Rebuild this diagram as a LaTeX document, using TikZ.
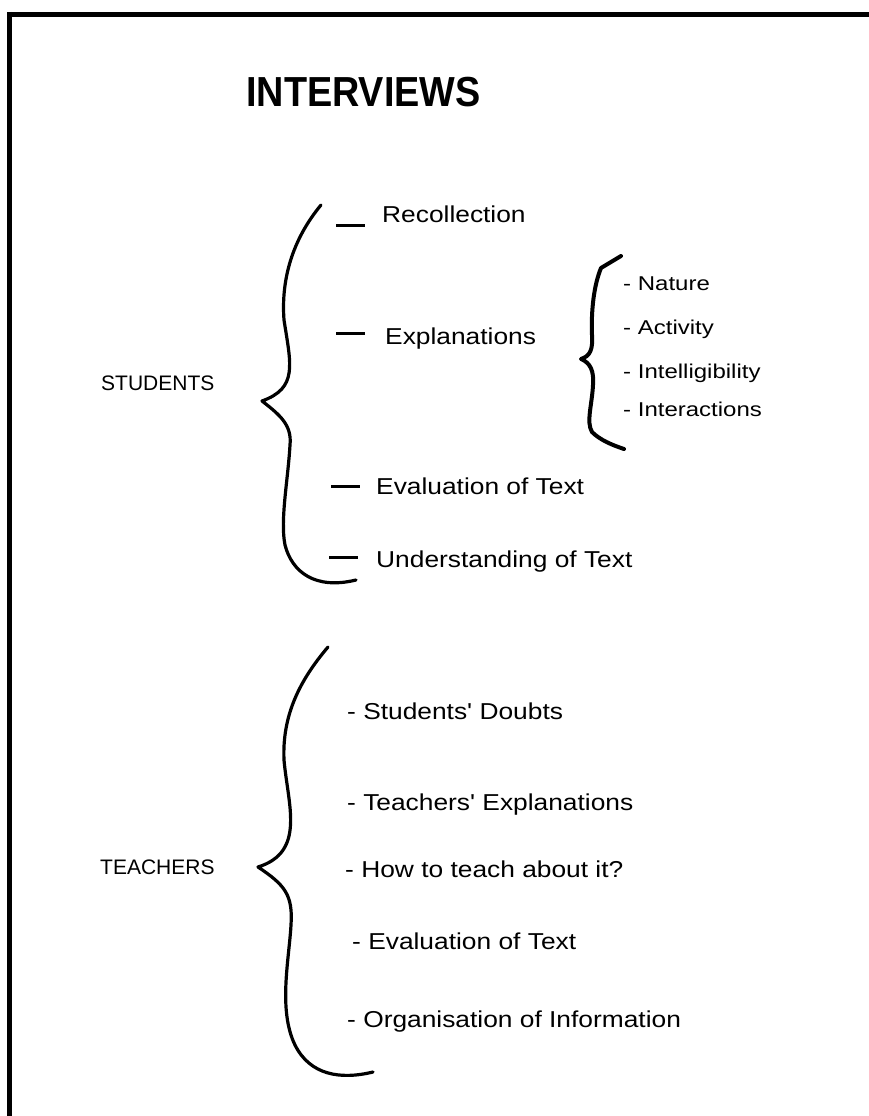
\documentclass[tikz,border=0pt]{standalone}
\usepackage{fontspec}
\setmainfont{Liberation Sans}[Ligatures=TeXOff]
\usepackage{graphicx}
\newcommand{\wx}[1]{\scalebox{1.145}[1]{#1}}
\newcommand{\wn}[1]{\scalebox{1.2}[1]{#1}}
\newcommand{\wt}[1]{\scalebox{0.9}[1]{#1}}
\begin{document}
\begin{tikzpicture}[x=1pt,y=-1pt,
  item/.style={anchor=base west, inner sep=0pt, font=\fontsize{23pt}{27pt}\selectfont},
  subitem/.style={anchor=base west, inner sep=0pt, font=\fontsize{20pt}{24pt}\selectfont},
  grp/.style={anchor=base west, inner sep=0pt, font=\fontsize{21pt}{25pt}\selectfont},
  ttl/.style={anchor=base west, inner sep=0pt, font=\fontsize{42pt}{48pt}\bfseries\selectfont},
  brace/.style={line width=3.2pt, line cap=round, line join=round},
  tick/.style={line width=3pt},
  frameline/.style={line width=5pt}]
\useasboundingbox (0,0) rectangle (869,1116);
\fill[white] (0,0) rectangle (869,1116);
% frame
\draw[frameline] (7,14.5) -- (869,14.5);
\draw[frameline] (9.5,12) -- (9.5,1116);
% title
\node[ttl] (title) at (246,106) {\wt{INTERVIEWS}};
% group labels
\node[grp] (students) at (101,390) {STUDENTS};
\node[grp] (teachers) at (100,874) {TEACHERS};
% students items
\node[item] (rec) at (382,222) {\wx{Recollection}};
\node[item] (expl) at (385,344) {\wx{Explanations}};
\node[item] (eval) at (376,494) {\wx{Evaluation of Text}};
\node[item] (und) at (376,567) {\wx{Understanding of Text}};
\draw[tick] (336,225) -- (365,225);
\draw[tick] (336,333) -- (365,333);
\draw[tick] (331,486) -- (360,486);
\draw[tick] (329,557) -- (358,557);
% nested items
\node[subitem] (nat) at (623,290) {\wn{- Nature}};
\node[subitem] (act) at (623,334) {\wn{- Activity}};
\node[subitem] (intl) at (623,378) {\wn{- Intelligibility}};
\node[subitem] (inter) at (623,416) {\wn{- Interactions}};
% teachers items
\node[item] (doubts) at (347,719) {\wx{- Students' Doubts}};
\node[item] (texpl) at (347,810) {\wx{- Teachers' Explanations}};
\node[item] (how) at (345,877) {\wx{- How to teach about it?}};
\node[item] (teval) at (352,949) {\wx{- Evaluation of Text}};
\node[item] (org) at (347,1027) {\wx{- Organisation of Information}};
% students brace
\draw[brace] (321,205) .. controls (292,240) and (281,280) .. (284,320)
  .. controls (291,365) and (298,388) .. (262,401)
  .. controls (280,415) and (292,425) .. (290,445)
  .. controls (288,480) and (280,520) .. (285,545)
  .. controls (292,572) and (315,590) .. (356,580);
% nested brace
\draw[brace, line width=4pt] (621,256) -- (601,268)
  .. controls (594,285) and (591,310) .. (592,335)
  .. controls (593,350) and (590,356) .. (581,359)
  .. controls (591,363) and (594,372) .. (593,385)
  .. controls (592,405) and (586,422) .. (592,432)
  .. controls (600,440) and (612,445) .. (624,449);
% teachers brace
\draw[brace] (328,647) .. controls (300,680) and (282,715) .. (284,760)
  .. controls (288,805) and (306,852) .. (258,867)
  .. controls (285,885) and (293,895) .. (291,925)
  .. controls (289,960) and (278,1010) .. (295,1045)
  .. controls (310,1075) and (340,1080) .. (373,1072);
\end{tikzpicture}
\end{document}
